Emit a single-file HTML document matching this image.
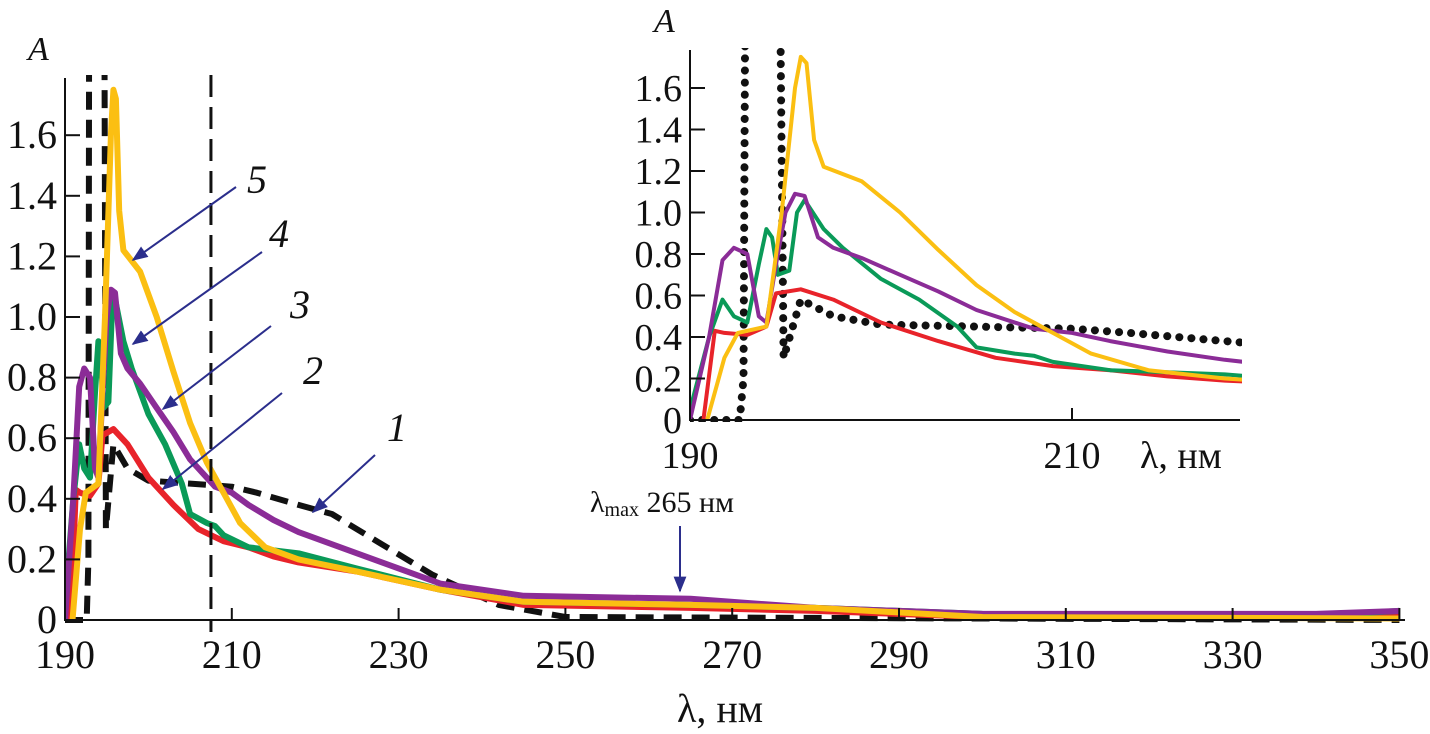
<!DOCTYPE html>
<html><head><meta charset="utf-8"><style>
body{margin:0;background:#fff}
svg{display:block}
text{font-family:"Liberation Serif","DejaVu Serif",serif;fill:#111}
</style></head><body>
<svg id="c" width="1430" height="734" viewBox="0 0 1430 734" font-family="Liberation Serif, DejaVu Serif, serif">
<defs>
<clipPath id="clipMain"><rect x="65" y="75" width="1340" height="548"/></clipPath>
<clipPath id="clipIn"><rect x="690" y="48" width="552" height="374"/></clipPath>
<marker id="ah" viewBox="0 0 10 10" refX="9" refY="5" markerWidth="8" markerHeight="8" orient="auto"><path d="M0,1 L10,5 L0,9 Z" fill="#2b2e8c"/></marker>
</defs>
<g id="main"></g>
<g id="inset"></g>
<g id="ann"></g>
</svg>
<script>
const ns="http://www.w3.org/2000/svg";
const s1x=[190,192.6,192.8,192.9,194.7,194.9,195.8,197.5,200,205,210,213,218,222,228,234,242,250,350];
const s1y=[0,0,0.2,2.2,2.2,0.3,0.58,0.5,0.46,0.45,0.44,0.42,0.38,0.35,0.25,0.15,0.05,0.01,0];
const s2x=[190.7,191.3,191.8,193,194,194.5,195.8,197.5,200,203,206,209,212,215,218,225,235,245,265,280,300,350];
const s2y=[0,0.43,0.42,0.41,0.45,0.61,0.63,0.58,0.47,0.38,0.3,0.26,0.24,0.21,0.19,0.16,0.1,0.05,0.04,0.03,0.01,0.01];
const s3x=[190,191,191.7,192.3,193,193.6,194,194.3,194.6,195.2,195.6,196,197,198,200,202,204,205,207,208,209,212,218,225,235,245,265,280,300,340,350];
const s3y=[0.05,0.4,0.58,0.5,0.47,0.75,0.92,0.88,0.7,0.72,1.0,1.06,0.92,0.83,0.68,0.58,0.45,0.35,0.32,0.31,0.28,0.24,0.22,0.17,0.1,0.06,0.05,0.04,0.02,0.015,0.03];
const s4x=[190,191,191.7,192.3,193,193.6,194,194.5,195,195.5,196,196.7,197.5,199,201,203,205,208,210,212,215,218,225,235,245,265,280,300,340,350];
const s4y=[0,0.4,0.77,0.83,0.8,0.5,0.47,0.75,1.0,1.09,1.08,0.88,0.83,0.78,0.7,0.62,0.53,0.44,0.42,0.38,0.33,0.29,0.22,0.12,0.08,0.07,0.04,0.02,0.02,0.03];
const s5x=[190.9,191.8,192.5,194,194.8,195.5,195.8,196.1,196.5,197,199,201,203,205,207,209,211,214,218,225,235,245,265,280,300,350];
const s5y=[0,0.3,0.42,0.45,1.0,1.6,1.75,1.72,1.35,1.22,1.15,1.0,0.82,0.65,0.52,0.42,0.32,0.24,0.2,0.16,0.1,0.06,0.05,0.04,0.01,0.005];
const yTicks=[0,0.2,0.4,0.6,0.8,1.0,1.2,1.4,1.6];
const yTickLabels=["0","0.2","0.4","0.6","0.8","1.0","1.2","1.4","1.6"];
const xTicksMain=[190,210,230,250,270,290,310,330,350];
const xTicksInset=[190,210];
const series=[
 {name:"curve-1-dashed",x:s1x,y:s1y,color:"#111",dash:true},
 {name:"curve-2-red",x:s2x,y:s2y,color:"#e8232a"},
 {name:"curve-3-green",x:s3x,y:s3y,color:"#0a9a58"},
 {name:"curve-4-purple",x:s4x,y:s4y,color:"#8b2c97"},
 {name:"curve-5-yellow",x:s5x,y:s5y,color:"#fbbf12"}];
function mk(tag,attrs,parent){const e=document.createElementNS(ns,tag);for(const k in attrs)e.setAttribute(k,attrs[k]);parent.appendChild(e);return e;}
function drawPlot(g,o){
  const X=v=>o.x0+(v-o.xmin)*o.kx, Y=v=>o.y0-v*o.ky;
  const cg=mk("g",{"clip-path":"url(#"+o.clip+")"},g);
  series.forEach(s=>{
    let d="";s.x.forEach((v,i)=>{d+=(i?"L":"M")+X(v).toFixed(1)+","+Y(s.y[i]).toFixed(1);});
    const p=mk("path",{d:d,fill:"none",stroke:s.color,"stroke-width":o.lw,"stroke-linejoin":"round","stroke-linecap":s.dash&&o.dots?"round":"butt"},cg);
    if(s.dash){p.setAttribute("stroke-dasharray",o.dots?"0.1 12":"18 10");p.setAttribute("stroke-width",o.dots?8:o.lw);}
    
    
  });
  const ax=mk("path",{d:`M${o.x0},${o.ytop} L${o.x0},${o.y0} L${o.xr},${o.y0}`,fill:"none",stroke:"#111","stroke-width":2},g);
  
  
  yTicks.forEach((v,i)=>{
    mk("line",{x1:o.x0,x2:o.x0+15,y1:Y(v),y2:Y(v),stroke:"#111","stroke-width":2},g);
    const t=mk("text",{x:o.x0-8,y:Y(v)+13,"text-anchor":"end","font-size":o.fs},g);
    t.textContent=yTickLabels[i];
    
    
  });
  o.xt.forEach(v=>{
    if(v!==o.xmin)mk("line",{x1:X(v),x2:X(v),y1:o.y0,y2:o.y0-12,stroke:"#111","stroke-width":2},g);
    const t=mk("text",{x:X(v),y:o.y0+48,"text-anchor":"middle","font-size":o.fs},g);
    t.textContent=String(v);
    
    
  });
}
const main=document.getElementById("main"),inset=document.getElementById("inset"),ann=document.getElementById("ann");
drawPlot(main,{x0:65,y0:620,xmin:190,kx:8.34,ky:303,ytop:78,xr:1405,lw:6,fs:40,clip:"clipMain",xt:xTicksMain,dots:false});
drawPlot(inset,{x0:690,y0:420,xmin:190,kx:19.1,ky:207.5,ytop:50,xr:1240,lw:4,fs:38,clip:"clipIn",xt:xTicksInset,dots:true});
const vx=65+(207.5-190)*8.34;
const vl=mk("line",{x1:vx,x2:vx,y1:75,y2:632,stroke:"#111","stroke-width":3,"stroke-dasharray":"22 10"},main);


function txt(x,y,s,size,style,name,anchor){const t=mk("text",{x:x,y:y,"font-size":size,"font-style":style||"normal","text-anchor":anchor||"start"},ann);t.textContent=s;return t;}
txt(28,60,"A",34,"italic","y-axis-title-main");
txt(654,32,"A",34,"italic","y-axis-title-inset");
txt(720,722,"λ, нм",40,"normal","x-axis-title-main","middle");
txt(1140,468,"λ, нм",38,"normal","x-axis-title-inset");
const arrows=[["5",257,193,236,187,133,260],["4",279,247,262,252,133,344],["3",300,318,271,326,163,409],["2",313,384,282,393,163,489],["1",397,441,375,455,313,512]];
arrows.forEach(a=>{
  txt(a[1],a[2],a[0],40,"italic","curve-label-"+a[0],"middle");
  const l=mk("line",{x1:a[3],y1:a[4],x2:a[5],y2:a[6],stroke:"#2b2e8c","stroke-width":2,"marker-end":"url(#ah)"},ann);
  
  
});
const lt=mk("text",{x:590,y:512,"font-size":30},ann);
lt.innerHTML='λ<tspan font-size="20" dy="4">max</tspan><tspan dy="-4"> 265 нм</tspan>';


const la=mk("line",{x1:680,y1:526,x2:680,y2:591,stroke:"#2b2e8c","stroke-width":2,"marker-end":"url(#ah)"},ann);


</script>
</body></html>
